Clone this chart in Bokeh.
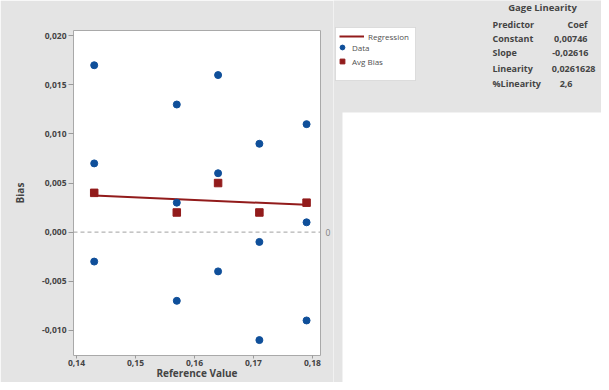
from bokeh.plotting import figure
from bokeh.layouts import row
from bokeh.models import FixedTicker, Span, Label, BoxAnnotation, Legend, LegendItem, LinearAxis
from bokeh.embed import file_html
from bokeh.resources import INLINE

# ---- data ----
ref_values = [0.143, 0.157, 0.164, 0.171, 0.179]
data_x = [0.143, 0.143, 0.143,
          0.157, 0.157, 0.157,
          0.164, 0.164, 0.164,
          0.171, 0.171, 0.171,
          0.179, 0.179, 0.179]
data_bias = [0.017, 0.007, -0.003,
             0.013, 0.003, -0.007,
             0.016, 0.006, -0.004,
             0.009, -0.001, -0.011,
             0.011, 0.001, -0.009]
avg_bias = [0.004, 0.002, 0.005, 0.002, 0.003]
constant = 0.00746
slope = -0.02616

x_ticks = [0.14, 0.15, 0.16, 0.17, 0.18]
x_tick_labels = ["0,14", "0,15", "0,16", "0,17", "0,18"]
y_ticks = [-0.010, -0.005, 0.0, 0.005, 0.010, 0.015, 0.020]
y_tick_labels = ["-0,010", "-0,005", "0,000", "0,005", "0,010", "0,015", "0,020"]
ref_line_ticks = [0.0]
ref_line_labels = ["0"]

table_title = "Gage Linearity"
table_names = ["Predictor", "Constant", "Slope", "Linearity", "%Linearity"]
table_values = ["Coef", "0,00746", "-0,02616", "0,0261628", "2,6"]

reg_x = [min(ref_values), max(ref_values)]
reg_y = [constant + slope * v for v in reg_x]

GRAY = "#e4e4e4"
BLUE = "#0f4f9a"
RED = "#921b1b"
TXT = "#444444"
FONT = "Open Sans"

# ---------------- main plot ----------------
p = figure(width=333, height=382, x_range=(0.13949, 0.18136), y_range=(-0.01257, 0.02054),
           min_border_left=73, min_border_right=13, min_border_top=30, min_border_bottom=26,
           border_fill_color=GRAY, background_fill_color="white", frame_align=False,
           outline_line_color="#a9a9a9", toolbar_location=None, output_backend="svg")
p.grid.visible = False

for ax, ticks, labels in ((p.xaxis[0], x_ticks, x_tick_labels), (p.yaxis[0], y_ticks, y_tick_labels)):
    ax.ticker = FixedTicker(ticks=ticks)
    ax.major_label_overrides = dict(zip(ticks, labels))
    ax.major_label_text_font = FONT
    ax.major_label_text_font_size = "8.5px"
    ax.major_label_text_font_style = "bold"
    ax.major_label_text_color = TXT
    ax.major_tick_line_color = "#9a9a9a"
    ax.major_tick_out = 5
    ax.major_tick_in = 0
    ax.minor_tick_line_color = None
    ax.axis_line_color = None
    ax.major_label_standoff = 2

p.yaxis.axis_label = "Bias"
p.xaxis.axis_label = "Reference Value"
for ax in (p.xaxis[0], p.yaxis[0]):
    ax.axis_label_text_font = FONT
    ax.axis_label_text_font_style = "bold"
    ax.axis_label_text_color = TXT
p.yaxis.axis_label_text_font_size = "10px"
p.yaxis.axis_label_standoff = 12
p.xaxis.axis_label_text_font_size = "10px"
p.xaxis.axis_label_standoff = -3
p.xaxis.major_label_standoff = 1
p.xaxis.major_tick_out = 3

zero_axis = LinearAxis(ticker=FixedTicker(ticks=ref_line_ticks),
                       major_label_overrides=dict(zip(ref_line_ticks, ref_line_labels)),
                       axis_line_color=None, major_tick_line_color=None, minor_tick_line_color=None,
                       major_tick_out=0, major_label_standoff=5, major_label_text_font=FONT,
                       major_label_text_font_size="8.5px", major_label_text_color="#808080")
p.add_layout(zero_axis, "right")

p.add_layout(Span(location=0, dimension="width", line_color="#a0a0a0", line_dash="4 3", line_width=1))

p.line(reg_x, reg_y, line_color=RED, line_width=2)
p.scatter(data_x, data_bias, marker="circle", size=7, color=BLUE)
p.scatter(ref_values, avg_bias, marker="square", size=7.5, color=RED)

# ---------------- right panel: legend + table + blank white area ----------------
r = figure(width=268, height=382, x_range=(1, 2), y_range=(1, 2),
           x_axis_location=None, y_axis_location=None, min_border=0,
           min_border_left=0, min_border_right=0, min_border_top=0, min_border_bottom=0,
           border_fill_color=GRAY, background_fill_color=GRAY, outline_line_color=None,
           frame_align=False, toolbar_location=None, output_backend="svg")
r.grid.visible = False
# legend proxies (the real series; they lie outside this panel's ranges)
line_r = r.line(reg_x, reg_y, line_color=RED, line_width=2)
data_r = r.scatter(data_x, data_bias, marker="circle", size=7, color=BLUE)
avg_r = r.scatter(ref_values, avg_bias, marker="square", size=7.5, color=RED)

def box(left, right, bottom, top, line_color=None):
    r.add_layout(BoxAnnotation(left=left, right=right, bottom=bottom, top=top,
                               left_units="screen", right_units="screen",
                               bottom_units="screen", top_units="screen",
                               fill_color="white", fill_alpha=1,
                               line_color=line_color, line_width=1))

box(9, 300, -10, 270)                          # blank white area
box(2, 82, 302, 355, line_color="#a8a8a8")     # legend frame

leg1 = Legend(items=[LegendItem(label="Regression", renderers=[line_r])],
              location=(6, 340.5), border_line_color=None, background_fill_alpha=0,
              padding=0, margin=0, glyph_width=25, glyph_height=10, label_height=10,
              label_standoff=4, label_text_font=FONT, label_text_font_size="8px",
              label_text_color="#505050")
leg2 = Legend(items=[LegendItem(label="Data", renderers=[data_r]),
                     LegendItem(label="Avg Bias", renderers=[avg_r])],
              location=(3, 314), border_line_color=None, background_fill_alpha=0,
              padding=0, margin=0, spacing=0, glyph_width=12, glyph_height=14, label_height=14,
              label_standoff=4, label_text_font=FONT, label_text_font_size="8px",
              label_text_color="#505050")
r.add_layout(leg1)
r.add_layout(leg2)

def lab(text, x, y, align="left", size="9px"):
    r.add_layout(Label(text=text, x=x, y=y, x_units="screen", y_units="screen",
                       text_align=align, text_baseline="middle", text_font=FONT,
                       text_font_size=size, text_font_style="bold", text_color=TXT))

lab(table_title, 209, 375, align="center", size="9.5px")
name_y = [358, 344, 330, 314, 299]
val_x = [254, 254, 255, 262, 239]
for name, val, yy, vx in zip(table_names, table_values, name_y, val_x):
    lab(name, 159, yy)
    lab(val, vx, yy, align="right")

layout = row(p, r, spacing=0)
open("out.html", "w").write(file_html(layout, INLINE))
